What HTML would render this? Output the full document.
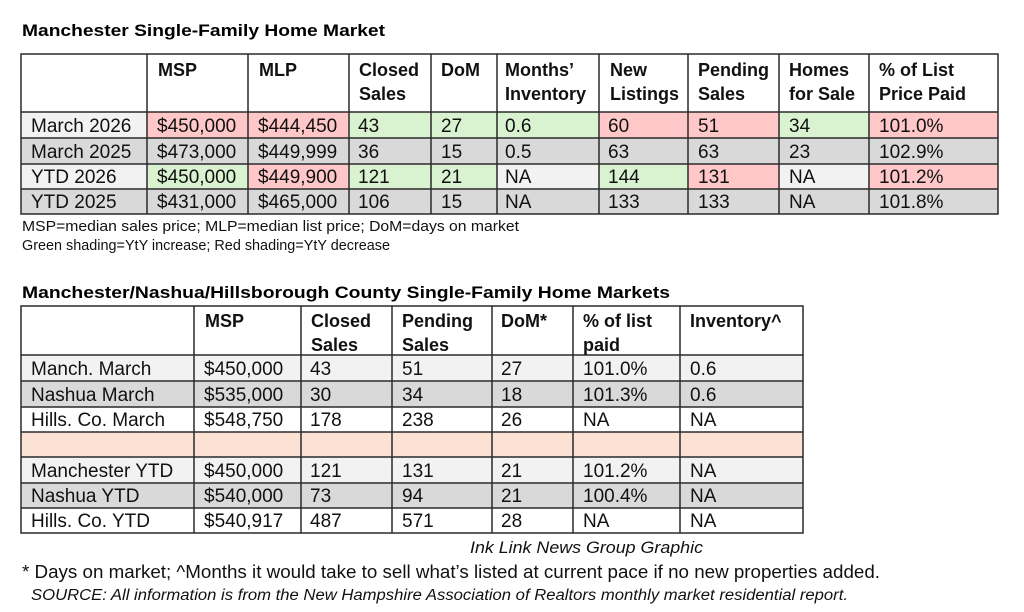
<!DOCTYPE html>
<html><head><meta charset="utf-8"><style>
html,body{margin:0;padding:0;background:#fff;}
svg{display:block;font-family:"Liberation Sans",sans-serif;}
.b{font-weight:bold}
</style></head><body>
<svg width="1024" height="612" viewBox="0 0 1024 612" xmlns="http://www.w3.org/2000/svg">
<rect width="1024" height="612" fill="#fff"/>
<text x="22" y="36" font-size="16.5" class="b" textLength="363" lengthAdjust="spacingAndGlyphs">Manchester Single-Family Home Market</text>

<g>
<rect x="21" y="112" width="977" height="26" fill="#f2f2f2"/>
<rect x="21" y="138" width="977" height="26" fill="#d9d9d9"/>
<rect x="21" y="164" width="977" height="25" fill="#f2f2f2"/>
<rect x="21" y="189" width="977" height="25" fill="#d9d9d9"/>
<rect x="147" y="112" width="101" height="26" fill="#ffc7c7"/>
<rect x="248" y="112" width="101" height="26" fill="#ffc7c7"/>
<rect x="349" y="112" width="82" height="26" fill="#d9f2d0"/>
<rect x="431" y="112" width="66" height="26" fill="#d9f2d0"/>
<rect x="497" y="112" width="102" height="26" fill="#d9f2d0"/>
<rect x="599" y="112" width="89" height="26" fill="#ffc7c7"/>
<rect x="688" y="112" width="91" height="26" fill="#ffc7c7"/>
<rect x="779" y="112" width="90" height="26" fill="#d9f2d0"/>
<rect x="869" y="112" width="129" height="26" fill="#ffc7c7"/>
<rect x="147" y="164" width="101" height="25" fill="#d9f2d0"/>
<rect x="248" y="164" width="101" height="25" fill="#ffc7c7"/>
<rect x="349" y="164" width="82" height="25" fill="#d9f2d0"/>
<rect x="431" y="164" width="66" height="25" fill="#d9f2d0"/>
<rect x="599" y="164" width="89" height="25" fill="#d9f2d0"/>
<rect x="688" y="164" width="91" height="25" fill="#ffc7c7"/>
<rect x="869" y="164" width="129" height="25" fill="#ffc7c7"/>
</g>
<g stroke="#2a2a2a" stroke-width="1.5" fill="none">
<rect x="21" y="54" width="977" height="160"/>
<line x1="21" y1="112" x2="998" y2="112"/>
<line x1="21" y1="138" x2="998" y2="138"/>
<line x1="21" y1="164" x2="998" y2="164"/>
<line x1="21" y1="189" x2="998" y2="189"/>
<line x1="147" y1="54" x2="147" y2="214"/>
<line x1="248" y1="54" x2="248" y2="214"/>
<line x1="349" y1="54" x2="349" y2="214"/>
<line x1="431" y1="54" x2="431" y2="214"/>
<line x1="497" y1="54" x2="497" y2="214"/>
<line x1="599" y1="54" x2="599" y2="214"/>
<line x1="688" y1="54" x2="688" y2="214"/>
<line x1="779" y1="54" x2="779" y2="214"/>
<line x1="869" y1="54" x2="869" y2="214"/>
</g>
<g font-size="18" class="b" fill="#111">
<text x="158" y="76">MSP</text>
<text x="359" y="76">Closed</text><text x="359" y="100">Sales</text>
<text x="259" y="76">MLP</text>
<text x="441" y="76">DoM</text>
<text x="505" y="76">Months’</text><text x="505" y="100">Inventory</text>
<text x="610" y="76">New</text><text x="610" y="100">Listings</text>
<text x="698" y="76">Pending</text><text x="698" y="100">Sales</text>
<text x="789" y="76">Homes</text><text x="789" y="100">for Sale</text>
<text x="879" y="76">% of List</text><text x="879" y="100">Price Paid</text>
</g>
<g font-size="19" fill="#111">
<text x="31" y="132">March 2026</text><text x="157" y="132">$450,000</text><text x="258" y="132">$444,450</text><text x="358" y="132">43</text><text x="441" y="132">27</text><text x="505" y="132">0.6</text><text x="608" y="132">60</text><text x="698" y="132">51</text><text x="789" y="132">34</text><text x="879" y="132">101.0%</text>
<text x="31" y="158">March 2025</text><text x="157" y="158">$473,000</text><text x="258" y="158">$449,999</text><text x="358" y="158">36</text><text x="441" y="158">15</text><text x="505" y="158">0.5</text><text x="608" y="158">63</text><text x="698" y="158">63</text><text x="789" y="158">23</text><text x="879" y="158">102.9%</text>
<text x="31" y="183">YTD 2026</text><text x="157" y="183">$450,000</text><text x="258" y="183">$449,900</text><text x="358" y="183">121</text><text x="441" y="183">21</text><text x="505" y="183">NA</text><text x="608" y="183">144</text><text x="698" y="183">131</text><text x="789" y="183">NA</text><text x="879" y="183">101.2%</text>
<text x="31" y="208">YTD 2025</text><text x="157" y="208">$431,000</text><text x="258" y="208">$465,000</text><text x="358" y="208">106</text><text x="441" y="208">15</text><text x="505" y="208">NA</text><text x="608" y="208">133</text><text x="698" y="208">133</text><text x="789" y="208">NA</text><text x="879" y="208">101.8%</text>
</g>
<text x="22" y="231" font-size="14.5" textLength="497" lengthAdjust="spacingAndGlyphs" fill="#111">MSP=median sales price; MLP=median list price; DoM=days on market</text>
<text x="22" y="250" font-size="14.5" textLength="368" lengthAdjust="spacingAndGlyphs" fill="#111">Green shading=YtY increase; Red shading=YtY decrease</text>

<text x="22" y="298" font-size="16.5" class="b" textLength="648" lengthAdjust="spacingAndGlyphs">Manchester/Nashua/Hillsborough County Single-Family Home Markets</text>

<g>
<rect x="21" y="355" width="782" height="26" fill="#f2f2f2"/>
<rect x="21" y="381" width="782" height="26" fill="#d9d9d9"/>
<rect x="21" y="407" width="782" height="25" fill="#ffffff"/>
<rect x="21" y="432" width="782" height="25" fill="#fbe2d5"/>
<rect x="21" y="457" width="782" height="26" fill="#f2f2f2"/>
<rect x="21" y="483" width="782" height="25" fill="#d9d9d9"/>
<rect x="21" y="508" width="782" height="25" fill="#ffffff"/>
</g>
<g stroke="#2a2a2a" stroke-width="1.5" fill="none">
<rect x="21" y="306" width="782" height="227"/>
<line x1="21" y1="355" x2="803" y2="355"/>
<line x1="21" y1="381" x2="803" y2="381"/>
<line x1="21" y1="407" x2="803" y2="407"/>
<line x1="21" y1="432" x2="803" y2="432"/>
<line x1="21" y1="457" x2="803" y2="457"/>
<line x1="21" y1="483" x2="803" y2="483"/>
<line x1="21" y1="508" x2="803" y2="508"/>
<line x1="194" y1="306" x2="194" y2="533"/>
<line x1="301" y1="306" x2="301" y2="533"/>
<line x1="392" y1="306" x2="392" y2="533"/>
<line x1="492" y1="306" x2="492" y2="533"/>
<line x1="573" y1="306" x2="573" y2="533"/>
<line x1="680" y1="306" x2="680" y2="533"/>
</g>
<g font-size="18" class="b" fill="#111">
<text x="205" y="327">MSP</text>
<text x="311" y="327">Closed</text><text x="311" y="351">Sales</text>
<text x="402" y="327">Pending</text><text x="402" y="351">Sales</text>
<text x="501" y="327">DoM*</text>
<text x="583" y="327">% of list</text><text x="583" y="351">paid</text>
<text x="690" y="327">Inventory^</text>
</g>
<g font-size="19" fill="#111">
<text x="31" y="375">Manch. March</text><text x="204" y="375">$450,000</text><text x="310" y="375">43</text><text x="402" y="375">51</text><text x="501" y="375">27</text><text x="583" y="375">101.0%</text><text x="690" y="375">0.6</text>
<text x="31" y="401">Nashua March</text><text x="204" y="401">$535,000</text><text x="310" y="401">30</text><text x="402" y="401">34</text><text x="501" y="401">18</text><text x="583" y="401">101.3%</text><text x="690" y="401">0.6</text>
<text x="31" y="426">Hills. Co. March</text><text x="204" y="426">$548,750</text><text x="310" y="426">178</text><text x="402" y="426">238</text><text x="501" y="426">26</text><text x="583" y="426">NA</text><text x="690" y="426">NA</text>
<text x="31" y="477">Manchester YTD</text><text x="204" y="477">$450,000</text><text x="310" y="477">121</text><text x="402" y="477">131</text><text x="501" y="477">21</text><text x="583" y="477">101.2%</text><text x="690" y="477">NA</text>
<text x="31" y="502">Nashua YTD</text><text x="204" y="502">$540,000</text><text x="310" y="502">73</text><text x="402" y="502">94</text><text x="501" y="502">21</text><text x="583" y="502">100.4%</text><text x="690" y="502">NA</text>
<text x="31" y="527">Hills. Co. YTD</text><text x="204" y="527">$540,917</text><text x="310" y="527">487</text><text x="402" y="527">571</text><text x="501" y="527">28</text><text x="583" y="527">NA</text><text x="690" y="527">NA</text>
</g>

<text x="470" y="553" font-size="17" font-style="italic" textLength="233" lengthAdjust="spacingAndGlyphs" fill="#111">Ink Link News Group Graphic</text>
<text x="22" y="578" font-size="18" textLength="858" lengthAdjust="spacingAndGlyphs" fill="#111">* Days on market; ^Months it would take to sell what’s listed at current pace if no new properties added.</text>
<text x="31" y="600" font-size="15.5" font-style="italic" textLength="817" lengthAdjust="spacingAndGlyphs" fill="#111">SOURCE: All information is from the New Hampshire Association of Realtors monthly market residential report.</text>
</svg>
</body></html>
